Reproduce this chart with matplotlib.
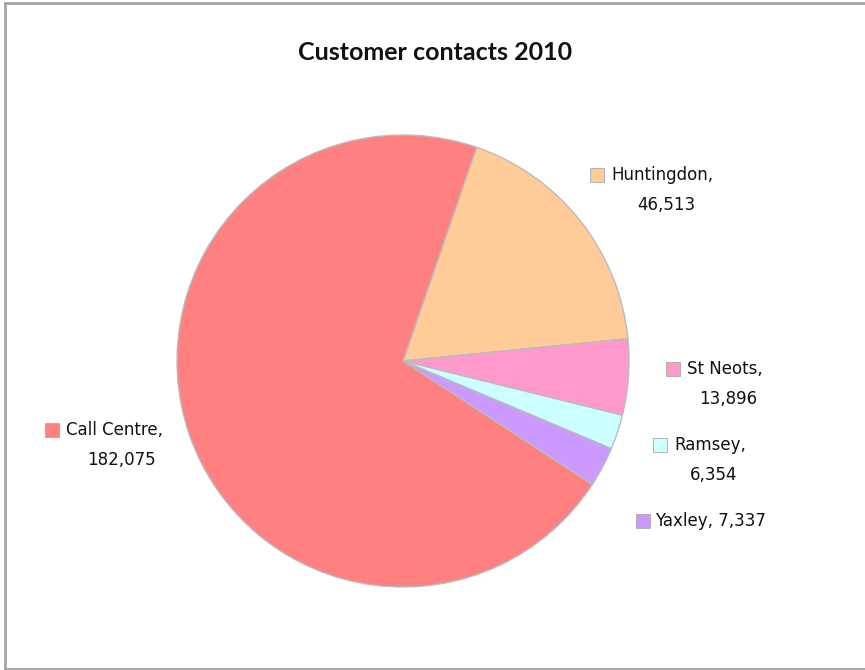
import matplotlib.pyplot as plt
from matplotlib.lines import Line2D

# Customer contacts by channel, 2010
names = ['Huntingdon', 'St Neots', 'Ramsey', 'Yaxley', 'Call Centre']
contacts = [46513, 13896, 6354, 7337, 182075]
colors = ['#FFCC99', '#FF99CC', '#CCFFFF', '#CC99FF', '#FF8080']

# label anchors (marker x, marker y, value x, value y), pixel space, y up
label_pos = {
    'Huntingdon': (597, 495, 666, 465),
    'St Neots': (673, 301, 728, 271),
    'Ramsey': (660, 225, 714, 195),
    'Yaxley': (643, 149, None, None),
    'Call Centre': (52, 240, 121, 210),
}

W, H = 865, 670
fig = plt.figure(figsize=(W / 100, H / 100), dpi=100)
ax = fig.add_axes([0, 0, 1, 1])
ax.axis('off')

ax.pie(contacts, colors=colors, center=(403, 309), radius=226,
       startangle=71, counterclock=False,
       wedgeprops=dict(edgecolor='#BBBBBB', linewidth=1.0))
ax.set_xlim(0, W)
ax.set_ylim(0, H)

ax.text(435, 618, 'Customer contacts 2010', ha='center', va='center',
        fontsize=18, fontweight='bold', family='Lato', color='#111111')

lab_font = dict(family='DejaVu Sans', fontsize=12, color='#111111')
for name, val, col in zip(names, contacts, colors):
    mx, my, vx, vy = label_pos[name]
    ax.scatter([mx], [my], marker='s', s=90, color=col,
               edgecolors='#AAAAAA', linewidths=0.6, zorder=5)
    if vx is None:
        ax.text(mx + 12, my, f'{name}, {val:,}', ha='left', va='center', **lab_font)
    else:
        ax.text(mx + 14, my, f'{name},', ha='left', va='center', **lab_font)
        ax.text(vx, vy, f'{val:,}', ha='center', va='center', **lab_font)

# chart area border (left, top, bottom)
for xs, ys in [([4.5, 4.5], [0.5, 667]), ([4.5, W], [667, 667]), ([4.5, W], [1.5, 1.5])]:
    fig.add_artist(Line2D([x / W for x in xs], [y / H for y in ys],
                          color='#A6A6A6', linewidth=2.0))

fig.savefig('out.png', dpi=100, facecolor='white')
